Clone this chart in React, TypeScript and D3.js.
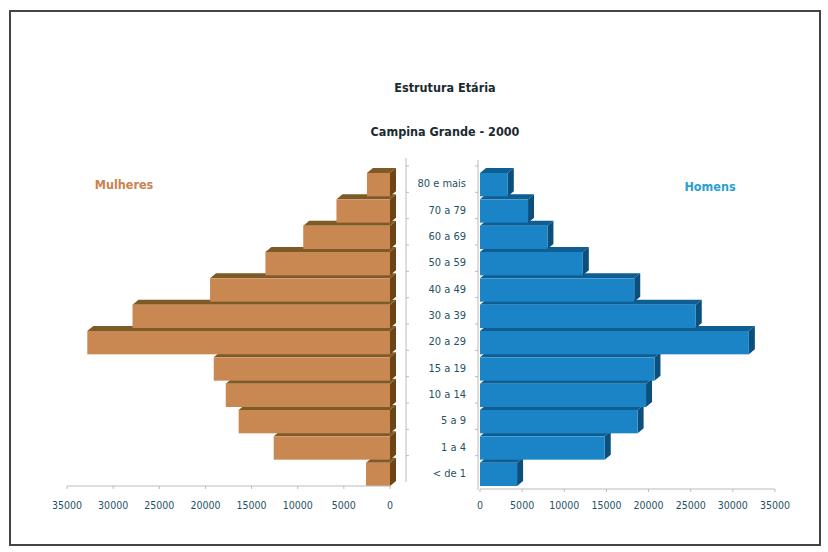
import React from "react";
import * as d3 from "d3";

const categories = ["80 e mais", "70 a 79", "60 a 69", "50 a 59", "40 a 49", "30 a 39", "20 a 29", "15 a 19", "10 a 14", "5 a 9", "1 a 4", "< de 1"];
const mulheres = [2500, 5800, 9400, 13500, 19500, 27900, 32800, 19100, 17800, 16400, 12600, 2600];
const homens = [3300, 5700, 8000, 12200, 18300, 25600, 31900, 20700, 19700, 18700, 14800, 4400];
const ticks = [0, 5000, 10000, 15000, 20000, 25000, 30000, 35000];

const W = 828, H = 552;
const DX = 6, DY = 5;
const font = "'DejaVu Sans Condensed', 'Liberation Sans Narrow', 'Open Sans', sans-serif";
const textColor = "#1f5265";

export default function App() {
  const y = d3.scaleBand<string>().domain(categories).range([170, 486]).paddingInner(0);
  const xL = d3.scaleLinear().domain([35000, 0]).range([67, 390]);
  const xR = d3.scaleLinear().domain([0, 35000]).range([480, 775]);
  const bh = y.bandwidth() - 3;
  const order = categories.map((c, i) => i).reverse();

  const bar = (x0: number, x1: number, yt: number, front: string, top: string, side: string, key: string) => (
    <g key={key}>
      <polygon points={`${x0},${yt} ${x0 + DX},${yt - DY} ${x1 + DX},${yt - DY} ${x1},${yt}`} fill={top} />
      <polygon points={`${x1},${yt} ${x1 + DX},${yt - DY} ${x1 + DX},${yt + bh - DY} ${x1},${yt + bh}`} fill={side} />
      <rect x={x0} y={yt} width={x1 - x0} height={bh} fill={front} />
    </g>
  );

  return (
    <svg width={W} height={H} style={{ position: "absolute", left: 0, top: 0 }} fontFamily={font}>
      <rect x={0} y={0} width={W} height={H} fill="#fff" />
      <rect x={10} y={11} width={810} height={534} fill="none" stroke="#444" strokeWidth={2} />
      <text x={445} y={92} textAnchor="middle" fontSize={12.5} fontWeight="bold" fill="#1a2a30">Estrutura Etária</text>
      <text x={445} y={136} textAnchor="middle" fontSize={12.5} fontWeight="bold" fill="#1a2a30">Campina Grande - 2000</text>
      <text x={124} y={189} textAnchor="middle" fontSize={12.5} fontWeight="bold" fill="#c8834e">Mulheres</text>
      <text x={710} y={191} textAnchor="middle" fontSize={12.5} fontWeight="bold" fill="#2a9fd0">Homens</text>

      {/* walls */}
      <line x1={406} y1={158} x2={406} y2={482} stroke="#bbb" strokeWidth={1} />
      <line x1={478} y1={160} x2={478} y2={490} stroke="#bbb" strokeWidth={1} />
      {categories.map((c, i) => (
        <g key={"wt" + i}>
          <line x1={406} x2={409} y1={(y(c) as number) - 4} y2={(y(c) as number) - 4} stroke="#bbb" />
          <line x1={475} x2={478} y1={(y(c) as number) - 4} y2={(y(c) as number) - 4} stroke="#bbb" />
        </g>
      ))}

      {/* bars */}
      {order.map((i) =>
        bar(xL(mulheres[i]), xL(0), (y(categories[i]) as number) + 3, "#c98752", "#7d5a26", "#6e4417", "m" + i)
      )}
      {order.map((i) =>
        bar(xR(0), xR(homens[i]), (y(categories[i]) as number) + 3, "#1a84c6", "#0e5e92", "#0c4f7d", "h" + i)
      )}

      {/* category labels */}
      {categories.map((c) => (
        <text key={c} x={466} y={(y(c) as number) + y.bandwidth() / 2 + 4} textAnchor="end" fontSize={11} fill={textColor}>{c}</text>
      ))}

      {/* left axis */}
      <line x1={xL(35000)} x2={xL(0)} y1={486} y2={486} stroke="#bbb" />
      {ticks.map((t) => (
        <g key={"l" + t}>
          <line x1={xL(t)} x2={xL(t)} y1={486} y2={489} stroke="#bbb" />
          <text x={xL(t)} y={509} textAnchor="middle" fontSize={10.5} fill={textColor}>{t}</text>
        </g>
      ))}
      {/* right axis */}
      <line x1={xR(0)} x2={xR(35000)} y1={489} y2={489} stroke="#bbb" />
      {ticks.map((t) => (
        <g key={"r" + t}>
          <line x1={xR(t)} x2={xR(t)} y1={489} y2={492} stroke="#bbb" />
          <text x={xR(t)} y={509} textAnchor="middle" fontSize={10.5} fill={textColor}>{t}</text>
        </g>
      ))}
    </svg>
  );
}
